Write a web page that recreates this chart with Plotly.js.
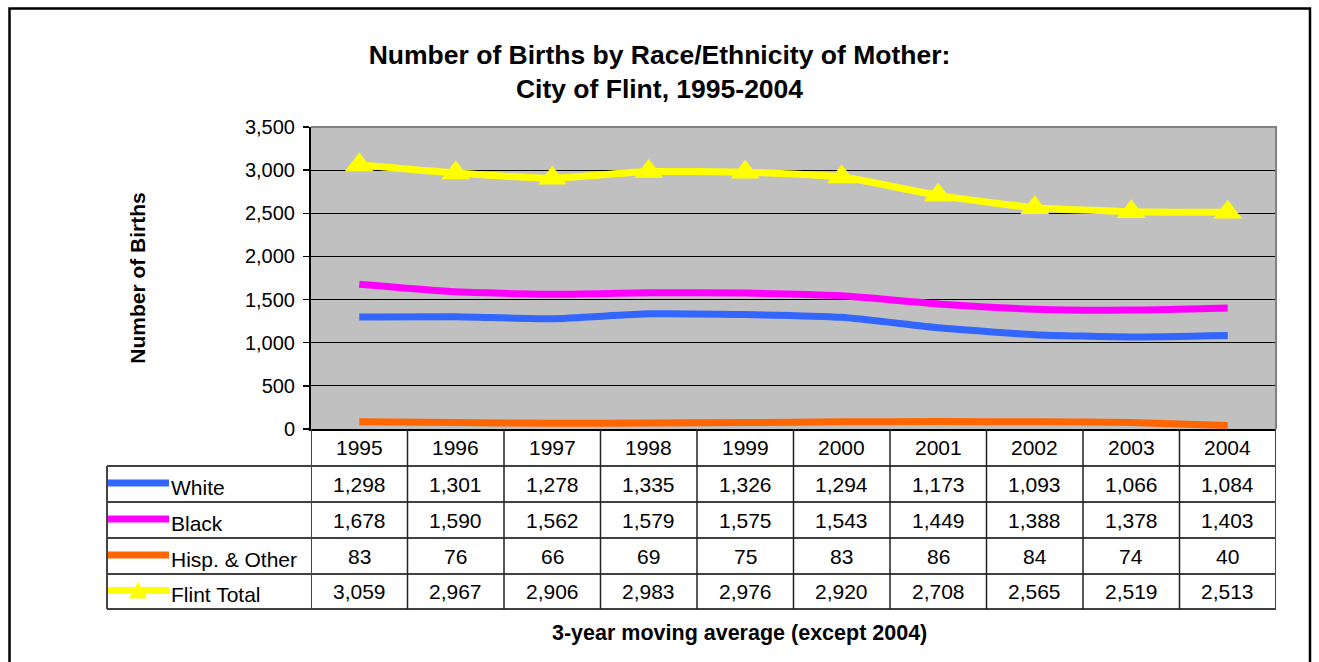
<!DOCTYPE html>
<html>
<head>
<meta charset="utf-8">
<script src="https://cdn.plot.ly/plotly-3.0.1.min.js"></script>
<style>html,body{margin:0;padding:0;background:#fff;}#chart{width:1319px;height:662px;}</style>
</head>
<body>
<div id="chart"></div>
<script>
// ---- data ----
const years = [1995, 1996, 1997, 1998, 1999, 2000, 2001, 2002, 2003, 2004];
const white = [1298, 1301, 1278, 1335, 1326, 1294, 1173, 1093, 1066, 1084];
const black = [1678, 1590, 1562, 1579, 1575, 1543, 1449, 1388, 1378, 1403];
const hisp = [83, 76, 66, 69, 75, 83, 86, 84, 74, 40];
const total = [3059, 2967, 2906, 2983, 2976, 2920, 2708, 2565, 2519, 2513];
const seriesNames = ['White', 'Black', 'Hisp. & Other', 'Flint Total'];
const seriesValues = [white, black, hisp, total];
const seriesColors = ['#3366FF', '#FF00FF', '#FF6600', '#FFFF00'];
const yTicks = [0, 500, 1000, 1500, 2000, 2500, 3000, 3500];
const titleText = 'Number of Births by Race/Ethnicity of Mother:<br>City of Flint, 1995-2004';
const yTitle = 'Number of Births';
const xTitle = '3-year moving average (except 2004)';

// ---- layout geometry (pixels) ----
const W = 1319, H = 662;
const PL = 311, PR = 1276, PT = 127, PB = 429;
const tableLeft = 107;
const rowEdges = [429, 466, 502, 538, 574, 609];
const FONT = 'Liberation Sans, Arial, sans-serif';
const px = x => (x - PL) / (PR - PL);
const py = y => (PB - y) / (PB - PT);
const fmt = v => v.toLocaleString('en-US');

const traces = seriesValues.map((vals, i) => {
  const t = {
    type: 'scatter',
    mode: 'lines',
    x: years,
    y: vals,
    name: seriesNames[i],
    line: {color: seriesColors[i], width: 7, shape: 'spline', smoothing: 0.5},
    showlegend: false
  };
  if (i === 3) {
    t.mode = 'lines+markers';
    t.marker = {symbol: 'triangle-up', size: 25, color: seriesColors[i], line: {width: 0}};
  }
  return t;
});

const shapes = [];
const annotations = [];

// plot area top/right grey border
shapes.push({type: 'path', xref: 'paper', yref: 'paper',
  path: 'M0,1 L1,1 L1,0', line: {color: '#808080', width: 2}, layer: 'above'});

// table horizontal lines
for (let r = 1; r < rowEdges.length; r++) {
  shapes.push({type: 'line', xref: 'paper', yref: 'paper',
    x0: px(tableLeft), x1: 1, y0: py(rowEdges[r]), y1: py(rowEdges[r]),
    line: {color: '#000', width: 1.5}});
}
// table vertical line: left edge of labels column
shapes.push({type: 'line', xref: 'paper', yref: 'paper',
  x0: px(tableLeft), x1: px(tableLeft), y0: py(rowEdges[1]), y1: py(rowEdges[5]),
  line: {color: '#444', width: 2}});
// column boundaries from the x axis categories
const bounds = years.map(y => y - 0.5).concat([years[years.length - 1] + 0.5]);
bounds.forEach((b, i) => {
  const edge = (i === 0 || i === bounds.length - 1);
  shapes.push({type: 'line', xref: 'x', yref: 'paper',
    x0: b, x1: b, y0: py(rowEdges[0]), y1: py(rowEdges[5]),
    line: {color: edge ? '#444' : '#222', width: edge ? 2 : 1.5}});
});

// header years
years.forEach(yr => {
  annotations.push({xref: 'x', yref: 'paper', x: yr, y: py((rowEdges[0] + rowEdges[1]) / 2),
    text: String(yr), showarrow: false, xanchor: 'center', yanchor: 'middle',
    font: {family: FONT, size: 21, color: '#000'}});
});

// table rows
seriesValues.forEach((vals, r) => {
  const yc = (rowEdges[r + 1] + rowEdges[r + 2]) / 2;
  vals.forEach((v, j) => {
    annotations.push({xref: 'x', yref: 'paper', x: years[j], y: py(yc),
      text: fmt(v), showarrow: false, xanchor: 'center', yanchor: 'middle',
      font: {family: FONT, size: 21, color: '#000'}});
  });
  annotations.push({xref: 'paper', yref: 'paper', x: px(169), y: py(yc + 3),
    text: seriesNames[r], showarrow: false, xanchor: 'left', yanchor: 'middle',
    font: {family: FONT, size: 21, color: '#000'}});
  const ly = yc - 1;
  shapes.push({type: 'line', xref: 'paper', yref: 'paper',
    x0: px(108), x1: px(169), y0: py(ly), y1: py(ly),
    line: {color: seriesColors[r], width: 7}});
  if (r === 3) {
    shapes.push({type: 'path', xref: 'paper', yref: 'paper',
      path: 'M' + px(129) + ',' + py(ly + 8) + ' L' + px(147) + ',' + py(ly + 8) + ' L' + px(138) + ',' + py(ly - 9) + ' Z',
      fillcolor: seriesColors[r], line: {width: 0}});
  }
});

// x title
annotations.push({xref: 'paper', yref: 'paper', x: px(739), y: py(633),
  text: '<b>' + xTitle + '</b>', showarrow: false, xanchor: 'center', yanchor: 'middle',
  font: {family: FONT, size: 21.5, color: '#000'}});

// outer frame
shapes.push({type: 'rect', xref: 'paper', yref: 'paper',
  x0: px(9.5), x1: px(1310), y0: py(680), y1: py(8.5),
  line: {color: '#000', width: 2.5}, layer: 'above'});

const layout = {
  width: W, height: H,
  margin: {l: PL, r: W - PR, t: PT, b: H - PB, pad: 0},
  paper_bgcolor: '#fff',
  plot_bgcolor: '#C0C0C0',
  font: {family: FONT, color: '#000'},
  title: {text: '<b>' + titleText + '</b>', xref: 'container', x: 0.5, yref: 'container',
    y: 1 - 64 / H, yanchor: 'top', font: {family: FONT, size: 26.5, color: '#000'}},
  xaxis: {range: [years[0] - 0.5, years[years.length - 1] + 0.5], showticklabels: false,
    showgrid: false, zeroline: false, showline: true, linecolor: '#000', linewidth: 2,
    ticks: '', fixedrange: true},
  yaxis: {range: [0, 3500], tickvals: yTicks, ticktext: yTicks.map(fmt), ticks: 'outside',
    ticklen: 6, tickcolor: '#000', tickwidth: 1.5, showgrid: true, gridcolor: '#000', gridwidth: 1,
    zeroline: false, showline: true, linecolor: '#000', linewidth: 2,
    tickfont: {family: FONT, size: 20, color: '#000'}, ticklabelstandoff: 4,
    title: {text: '<b>' + yTitle + '</b>', standoff: 94, font: {family: FONT, size: 21, color: '#000'}},
    fixedrange: true},
  shapes: shapes,
  annotations: annotations
};

Plotly.newPlot('chart', traces, layout, {displayModeBar: false, staticPlot: true});
</script>
</body>
</html>
